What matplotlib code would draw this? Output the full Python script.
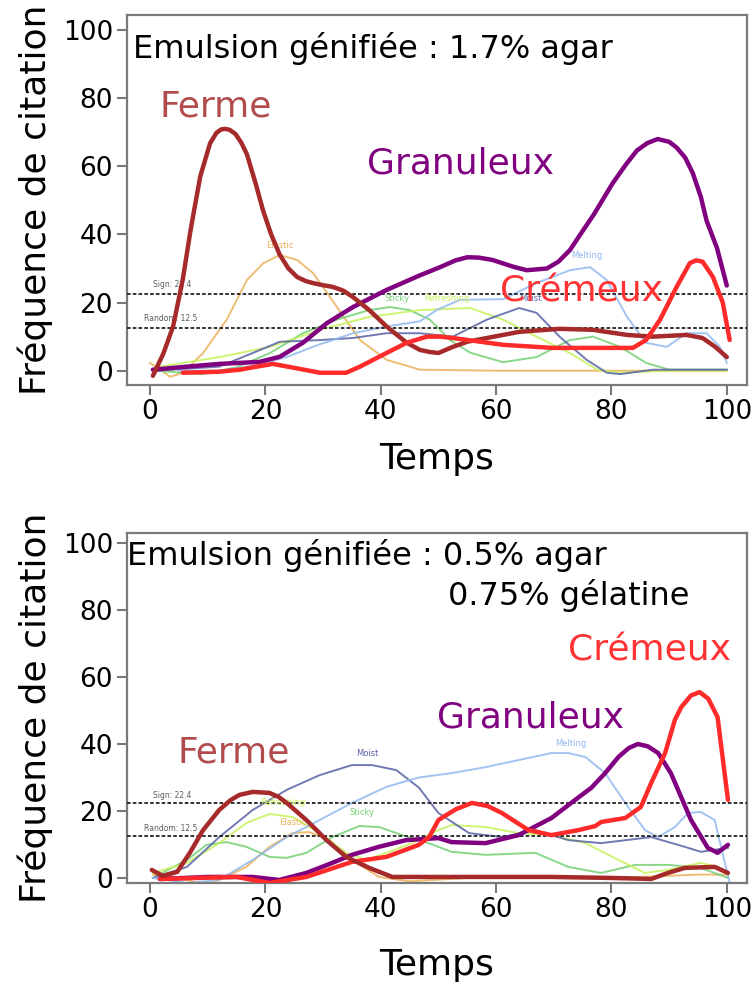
import matplotlib
matplotlib.use("Agg")
import matplotlib.pyplot as plt

# ---------------- data: top panel (1.7% agar) ----------------
top_ferme_x = [0.5, 2.3, 4, 5.7, 7, 8.7, 10.4, 11.5, 12.3, 13, 13.8, 14.8, 15.8, 16.8, 18.3, 19.6, 21,
               22.5, 24, 25.5, 27, 28.3, 30, 31.7, 33.5, 35.2, 38, 41, 44.5, 46.8, 48.5, 50, 52.5, 55,
               58.4, 64, 71, 76.8, 82.7, 87.2, 93, 95.8, 98, 100]
top_ferme_y = [-1.5, 5, 13, 27, 41, 57, 66.7, 69.8, 70.8, 71, 70.7, 69.5, 67, 63.5, 55, 47, 40,
               34, 30, 27.5, 26.3, 25.7, 25.1, 24.6, 23.5, 21.6, 17.8, 13, 8.2, 6.1, 5.5, 5.2, 7, 8.5,
               9.6, 11.4, 12.3, 12, 10.5, 10, 10.5, 9.6, 7, 4]
top_gran_x = [0.5, 6.4, 12, 19, 22.5, 26.5, 30.7, 35.2, 41, 46.8, 50.3, 53, 55, 57, 59.4, 63, 65.3,
              68.8, 70.8, 72.8, 75, 77, 80.2, 82.5, 84.4, 86.2, 88, 90, 91.3, 92.8, 94.1, 95.5, 96.5,
              98.3, 100]
top_gran_y = [0.3, 1.2, 2, 2.6, 4.1, 8.2, 14, 18.7, 23.7, 28, 30.4, 32.4, 33.3, 33.2, 32.5, 30.5, 29.5,
              30, 32, 35.4, 41, 46, 55, 60.5, 64.6, 66.8, 68, 67.2, 65.5, 62.5, 58, 51, 44, 36, 25]
top_crem_x = [5.7, 12, 15.6, 18.5, 21.3, 24.8, 29.5, 34, 36.4, 41, 44.5, 48, 50.3, 52.5, 56, 61.2, 69.8,
              78.5, 83.7, 86, 88.4, 91.3, 93.6, 94.7, 95.8, 97.6, 99.3, 100.5]
top_crem_y = [-0.6, -0.3, 0.3, 1.2, 2, 0.9, -0.6, -0.6, 1.2, 5.2, 8.2, 10, 10, 9.6, 8.8, 7.6, 6.7,
              6.7, 6.7, 9, 14.9, 24.6, 31.6, 32.4, 32, 27.5, 20, 9]
top_elastic_x = [0, 2, 3.5, 5.7, 9.2, 13.3, 16.8, 19.6, 22.5, 25.5, 28.3, 32.4, 36.4, 41, 46.8, 60, 80, 100]
top_elastic_y = [2.3, 0, -1.8, -0.6, 5.2, 15, 26.6, 31.5, 34, 32.5, 28.6, 18.7, 9, 3.2, 0.3, 0, 0, 0]
top_sticky_x = [1, 9, 15, 20.8, 26.5, 32.4, 38, 41.6, 45, 48.5, 50.3, 52, 55.5, 61.2, 67, 72.8, 76.8,
                81.5, 86, 90, 100]
top_sticky_y = [0, -1, 1, 5.2, 11, 15, 17.8, 18.7, 17.8, 15, 12, 9, 5.3, 2.5, 4, 9, 10, 7, 2.3, 0.3, 0.3]
top_refr_x = [1.7, 12, 20.8, 29.5, 38, 46.8, 55.5, 61.2, 67, 72.8, 77.5, 81.5, 90, 100]
top_refr_y = [1.2, 4, 7, 12, 15.8, 17.8, 18.4, 15, 10, 5.2, 0.3, -0.6, 0, 0]
top_moist_x = [1, 12, 17.8, 22.5, 29.5, 35.2, 41, 46.8, 52.5, 58.4, 64, 67, 71, 75.7, 79.2, 81.5, 87.2, 100]
top_moist_y = [0, 1.2, 5.2, 8.5, 9, 9.6, 11, 11, 10, 15, 18.4, 17, 10, 3.2, -0.6, -1, 0.3, 0.3]
top_melt_x = [5, 12, 18, 23.7, 29, 35.2, 41, 46.8, 49.7, 53.7, 61.2, 67, 72.8, 76.3, 79.2, 82.7, 86,
              89.6, 93, 96.5, 98.8, 100]
top_melt_y = [0, 0, 1.5, 4, 7.5, 11, 13, 14.5, 17.8, 20.8, 21, 25.7, 29.5, 30.4, 26.6, 15.8, 8.2,
              7, 11, 11, 7, 2.3]

# ---------------- data: bottom panel (0.5% agar, 0.75% gelatine) ----------------
bot_ferme_x = [0.3, 2.2, 4.7, 6.9, 9.2, 12, 14, 15.5, 17.8, 20.7, 22.3, 23.7, 27.1, 30.6, 34, 38, 42,
               50, 60, 69.6, 80, 86.9, 89.8, 92.7, 97.9, 100.2]
bot_ferme_y = [2.4, 0.6, 1.8, 7.5, 14.3, 20.3, 23.3, 24.8, 25.7, 25.4, 24.2, 22.4, 17.3, 11.3, 6.3, 3,
               0.3, 0.3, 0.3, 0.3, 0, -0.3, 1.5, 3, 3.3, 1.5]
bot_gran_x = [1.7, 10, 17.8, 22.4, 27.1, 31.6, 35, 39.7, 44.4, 50, 52.3, 58.2, 63.9, 69.6, 73.7, 76.5,
              78.9, 81.2, 83, 84.6, 86.3, 88.1, 90.3, 93.8, 96.7, 98.4, 100.2]
bot_gran_y = [-0.3, 0.3, 0.3, -0.6, 1.5, 4.5, 6.9, 9.3, 11.3, 11.9, 10.7, 10.4, 12.8, 17.9, 23.3, 26.9,
              31.3, 36.1, 38.8, 40, 39.3, 37.3, 31.3, 17.3, 9, 7.5, 9.9]
bot_crem_x = [1.7, 15, 20.7, 27.1, 35, 41, 46.6, 48.4, 50, 53, 55.8, 58.5, 61, 65.6, 69.6, 74.3, 77.2,
              78.2, 82.4, 85.1, 86.9, 89.3, 91, 92.1, 93.8, 95.3, 96.8, 98.4, 100.2]
bot_crem_y = [-0.3, 0.3, -1.5, 0.3, 4.8, 6.3, 9.9, 12.2, 17.3, 20.5, 22.4, 21.5, 19.4, 14.3, 12.8, 14.3,
              15.5, 16.7, 17.9, 21.2, 28.4, 37.3, 47.2, 51, 54.5, 55.5, 53.5, 48, 23.3]
bot_moist_x = [0.5, 6.4, 12, 17.8, 23.7, 29.4, 35, 38.5, 42.7, 46.6, 50, 55.3, 61, 66.8, 72.5, 78.2,
               86.9, 92.7, 95.5, 100.2]
bot_moist_y = [0, 3.3, 12.2, 20.3, 26.3, 30.7, 33.7, 33.7, 32.2, 27, 19.4, 13.4, 12.2, 14.3, 11.3, 10.4,
               12.2, 9.3, 7.8, 9]
bot_melt_x = [0.5, 6.4, 12, 17.8, 23.7, 29.4, 35, 41, 46.6, 52.3, 58.2, 63.9, 69.6, 72.5, 75.5, 78.9,
              82.4, 85.8, 88.1, 91, 93.3, 95.5, 97.9, 99, 100.5]
bot_melt_y = [0, -1.5, -0.6, 5.4, 12.2, 17.3, 22.4, 27.2, 30, 31.3, 33.1, 35.2, 37.3, 37.3, 36.1, 31.3,
              22.4, 14.3, 12.2, 15.2, 19.4, 19.7, 17.3, 9.3, -1.5]
bot_elastic_x = [0.5, 6.4, 9.2, 12, 16.7, 20.7, 24.7, 27.6, 31.1, 35, 39.7, 45, 55, 70, 85, 95, 100]
bot_elastic_y = [1, -0.6, -2.1, -0.6, 3.3, 9.3, 13.4, 13.7, 11.3, 5.4, 0.3, -1, 0, 0, 0.3, 1, 1]
bot_refr_x = [0.5, 6.4, 12, 16.7, 20.7, 24.7, 29.4, 34, 37.5, 41, 45.4, 50, 52.3, 58.2, 63.9, 69.6,
              75.5, 81.2, 85.8, 89.8, 95.5, 98.4, 100.2]
bot_refr_y = [1.5, 4.5, 10.4, 16.4, 19.1, 18.2, 13.4, 7.5, 5.4, 7.5, 10.4, 14.3, 15.8, 15.2, 13.4, 12.8,
              10.4, 5.4, 1.5, 2.4, 4.5, 3.3, 1.5]
bot_sticky_x = [0.5, 6.4, 9.8, 13.3, 16.7, 20.7, 23.7, 27.1, 31.6, 36.3, 39.7, 43.7, 47.8, 52.3, 58.2,
                66.8, 72.5, 78.2, 84.1, 89.8, 95.5, 100.2]
bot_sticky_y = [0, 5.4, 9.9, 10.7, 9.3, 6.3, 6, 7.5, 12.2, 15.5, 15.2, 12.8, 10.7, 7.8, 6.9, 7.5, 3.3,
                1.5, 3.9, 3.9, 3, 0]

sign_level = 22.4
random_level = 12.5
y_ticks = [0, 20, 40, 60, 80, 100]
x_ticks = [0, 20, 40, 60, 80, 100]

# ---------------- styling ----------------
C_FERME = '#a62a2a'
C_FERME_TXT = '#b24c4c'
C_GRAN = '#800080'
C_CREM = '#ff2a2a'
C_ELASTIC = '#ebb25a'
C_STICKY = '#74d074'
C_REFR = '#c6f25a'
C_MOIST = '#5862a6'
C_MELT = '#92b9f0'

fig = plt.figure(figsize=(7.54, 9.88), dpi=100)
ax1 = fig.add_axes([0.1684, 0.6103, 0.8223, 0.3745])
ax2 = fig.add_axes([0.1684, 0.1063, 0.8223, 0.3542])


def style_axes(ax, ylim, xpad):
    ax.set_xlim(-4, 103.5)
    ax.set_ylim(*ylim)
    ax.set_xticks(x_ticks)
    ax.set_yticks(y_ticks)
    ax.tick_params(axis='both', labelsize=19, length=7, width=1.5, color='#777777', pad=3)
    for s in ax.spines.values():
        s.set_color('#7a7a7a')
        s.set_linewidth(1.6)
    ax.set_xlabel('Temps', fontsize=26, labelpad=xpad)
    ax.set_ylabel('Fréquence de citation', fontsize=26, labelpad=7)


def background(ax, curves):
    for x, y, c in curves:
        ax.plot(x, y, color=c, lw=1.4, alpha=0.85, solid_joinstyle='round', zorder=2)
    ax.axhline(sign_level, color='#222222', lw=1.3, ls=(0, (2, 1.2)), zorder=3)
    ax.axhline(random_level, color='#222222', lw=1.3, ls=(0, (2, 1.2)), zorder=3)


LW = 3.2
# ---------------- top panel ----------------
style_axes(ax1, (-4.2, 104.4), 12)
background(ax1, [(top_elastic_x, top_elastic_y, C_ELASTIC),
                 (top_sticky_x, top_sticky_y, C_STICKY),
                 (top_refr_x, top_refr_y, C_REFR),
                 (top_moist_x, top_moist_y, C_MOIST),
                 (top_melt_x, top_melt_y, C_MELT)])
ax1.text(0.5, 24.5, 'Sign: 22.4', fontsize=5.5, color='#333333', alpha=0.8, zorder=3)
ax1.text(-1.0, 14.5, 'Random: 12.5', fontsize=5.5, color='#333333', alpha=0.8, zorder=3)
ax1.text(22.5, 36, 'Elastic', fontsize=6, color=C_ELASTIC, ha='center', zorder=3)
ax1.text(42.8, 20.5, 'Sticky', fontsize=6, color=C_STICKY, ha='center', zorder=3)
ax1.text(51.5, 20.5, 'Refreshing', fontsize=6, color=C_REFR, ha='center', zorder=3)
ax1.text(66, 20.5, 'Moist', fontsize=6, color=C_MOIST, ha='center', zorder=3)
ax1.text(75.7, 33, 'Melting', fontsize=6, color=C_MELT, ha='center', zorder=3)

ax1.plot(top_gran_x, top_gran_y, color=C_GRAN, lw=LW, solid_joinstyle='round', solid_capstyle='round', zorder=5)
ax1.plot(top_ferme_x, top_ferme_y, color=C_FERME, lw=LW, solid_joinstyle='round', solid_capstyle='round', zorder=5)
ax1.plot(top_crem_x, top_crem_y, color=C_CREM, lw=LW, solid_joinstyle='round', solid_capstyle='round', zorder=6)

ax1.text(-2.9, 91.8, 'Emulsion génifiée : 1.7% agar', fontsize=23, color='black', zorder=7)
ax1.text(1.6, 74.6, 'Ferme', fontsize=26, color=C_FERME_TXT, zorder=7)
ax1.text(37.6, 57.9, 'Granuleux', fontsize=26, color=C_GRAN, zorder=7)
ax1.text(60.7, 20.2, 'Crémeux', fontsize=26, color='#ff3333', zorder=7)

# ---------------- bottom panel ----------------
style_axes(ax2, (-1.5, 103), 18)
background(ax2, [(bot_elastic_x, bot_elastic_y, C_ELASTIC),
                 (bot_sticky_x, bot_sticky_y, C_STICKY),
                 (bot_refr_x, bot_refr_y, C_REFR),
                 (bot_moist_x, bot_moist_y, C_MOIST),
                 (bot_melt_x, bot_melt_y, C_MELT)])
ax2.text(0.5, 24.0, 'Sign: 22.4', fontsize=5.5, color='#333333', alpha=0.8, zorder=3)
ax2.text(-1.0, 14.0, 'Random: 12.5', fontsize=5.5, color='#333333', alpha=0.8, zorder=3)
ax2.text(24.7, 15.8, 'Elastic', fontsize=6, color=C_ELASTIC, ha='center', zorder=3)
ax2.text(36.8, 18.8, 'Sticky', fontsize=6, color=C_STICKY, ha='center', zorder=3)
ax2.text(23, 21.8, 'Refreshing', fontsize=6, color=C_REFR, ha='center', zorder=3)
ax2.text(37.6, 36.5, 'Moist', fontsize=6, color=C_MOIST, ha='center', zorder=3)
ax2.text(73, 39.5, 'Melting', fontsize=6, color=C_MELT, ha='center', zorder=3)

ax2.plot(bot_gran_x, bot_gran_y, color=C_GRAN, lw=LW, solid_joinstyle='round', solid_capstyle='round', zorder=5)
ax2.plot(bot_crem_x, bot_crem_y, color=C_CREM, lw=LW, solid_joinstyle='round', solid_capstyle='round', zorder=6)
ax2.plot(bot_ferme_x, bot_ferme_y, color=C_FERME, lw=LW, solid_joinstyle='round', solid_capstyle='round', zorder=6)

ax2.text(-4.0, 93.4, 'Emulsion génifiée : 0.5% agar', fontsize=23, color='black', zorder=7)
ax2.text(51.6, 81.5, '0.75% gélatine', fontsize=23, color='black', zorder=7)
ax2.text(4.8, 34.6, 'Ferme', fontsize=26, color=C_FERME_TXT, zorder=7)
ax2.text(49.7, 45.0, 'Granuleux', fontsize=26, color=C_GRAN, zorder=7)
ax2.text(72.5, 65.0, 'Crémeux', fontsize=26, color='#ff3333', zorder=7)

fig.savefig('out.png', dpi=100)
